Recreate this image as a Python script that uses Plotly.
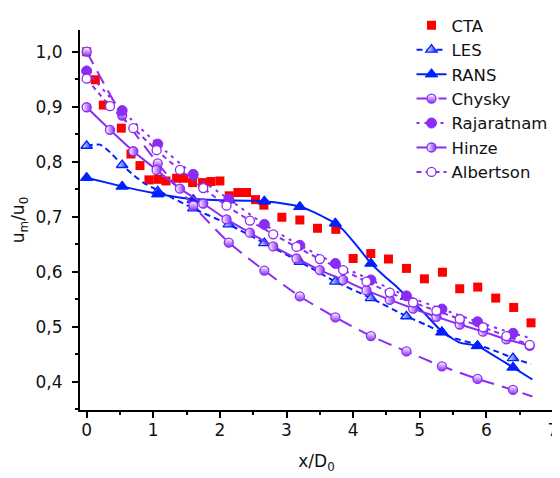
import plotly.graph_objects as go

# ---------------- data ----------------
cta_x = [0, 0.13, 0.25, 0.52, 0.665, 0.80, 0.935, 1.067, 1.19, 1.35, 1.46, 1.59, 1.74, 1.865, 2.0,
         2.14, 2.27, 2.40, 2.535, 2.66, 2.93, 3.2, 3.465, 3.74, 4.0, 4.265, 4.53, 4.8, 5.07, 5.34,
         5.6, 5.87, 6.14, 6.41, 6.67]
cta_y = [1.0, 0.949, 0.903, 0.861, 0.814, 0.793, 0.767, 0.768, 0.765, 0.770, 0.770, 0.762, 0.762, 0.764, 0.765,
         0.738, 0.744, 0.744, 0.731, 0.721, 0.699, 0.694, 0.679, 0.677, 0.624, 0.633, 0.623, 0.606, 0.587, 0.599,
         0.569, 0.572, 0.552, 0.535, 0.507]

mark_x = [0, 0.533, 1.067, 1.6, 2.133, 2.667, 3.2, 3.733, 4.267, 4.8, 5.333, 5.867, 6.4]

les_curve_x = [0, 0.2, 0.37, 0.533, 0.7, 0.85, 1.067, 1.6, 2.133, 2.667, 3.2, 3.733, 4.267, 4.8,
               5.1, 5.45, 5.9, 6.15, 6.4, 6.67]
les_curve_y = [0.829, 0.831, 0.815, 0.794, 0.776, 0.762, 0.748, 0.715, 0.686, 0.652, 0.618, 0.582, 0.552, 0.519,
               0.503, 0.482, 0.466, 0.455, 0.443, 0.432]
les_mark_y = [0.829, 0.794, 0.746, 0.715, 0.686, 0.652, 0.618, 0.582, 0.552, 0.519, 0.490, 0.465, 0.443]

rans_curve_x = [0, 0.5, 1.0, 1.5, 2.0, 2.5, 2.9, 3.2, 3.45, 3.733, 3.85, 4.0, 4.15, 4.267, 4.45, 4.65,
                4.8, 5.05, 5.333, 5.6, 5.867, 6.05, 6.4, 6.69]
rans_curve_y = [0.771, 0.756, 0.743, 0.733, 0.730, 0.729, 0.725, 0.718, 0.706, 0.688, 0.676, 0.655, 0.633, 0.615,
                0.594, 0.573, 0.555, 0.527, 0.491, 0.471, 0.465, 0.452, 0.426, 0.404]
rans_mark_y = [0.771, 0.755, 0.741, 0.731, 0.730, 0.728, 0.718, 0.688, 0.615, 0.555, 0.490, 0.465, 0.426]

chysky_mark_y = [1.0, 0.884, 0.797, 0.720, 0.653, 0.602, 0.555, 0.517, 0.483, 0.455, 0.428, 0.405, 0.385]
chysky_end = (6.69, 0.373)

raja_mark_y = [0.965, 0.893, 0.832, 0.777, 0.732, 0.686, 0.648, 0.615, 0.585, 0.556, 0.532, 0.509, 0.488]
raja_end = (6.67, 0.479)

mark35_x = [0, 0.35, 0.7, 1.05, 1.4, 1.75, 2.1, 2.45, 2.8, 3.15, 3.5, 3.85, 4.2, 4.55, 4.9, 5.25,
            5.6, 5.95, 6.3, 6.65]
hinze_y = [0.899, 0.858, 0.819, 0.785, 0.751, 0.724, 0.695, 0.671, 0.646, 0.624, 0.603, 0.585, 0.566,
           0.549, 0.533, 0.518, 0.504, 0.491, 0.477, 0.465]
albertson_y = [0.951, 0.901, 0.861, 0.821, 0.785, 0.752, 0.720, 0.693, 0.668, 0.645, 0.623, 0.603, 0.582,
               0.562, 0.544, 0.529, 0.514, 0.499, 0.483, 0.467]

x_ticks = [0, 1, 2, 3, 4, 5, 6, 7]
y_ticks = [0.4, 0.5, 0.6, 0.7, 0.8, 0.9, 1.0]

# ---------------- styles ----------------
RED = "#FF0000"
BLUE = "#0020FF"
VIOLET = "#8B2CF5"
FONT = "DejaVu Sans, Arial, sans-serif"

fig = go.Figure()


def add_series(name, lx, ly, mx, my, color, dash, marker, smoothing=0.6):
    fig.add_trace(go.Scatter(x=lx, y=ly, mode="lines", line=dict(color=color, width=2, dash=dash,
                             shape="spline", smoothing=smoothing), legendgroup=name, showlegend=False,
                             hoverinfo="skip"))
    fig.add_trace(go.Scatter(x=mx, y=my, mode="markers", marker=marker, legendgroup=name,
                             showlegend=False))
    fig.add_trace(go.Scatter(x=[None], y=[None], mode="lines+markers", name=name, legendgroup=name,
                             line=dict(color=color, width=2, dash=dash), marker=marker))


fig.add_trace(go.Scatter(x=cta_x, y=cta_y, mode="markers", name="CTA",
                         marker=dict(symbol="square", size=9, color=RED, line=dict(width=0))))

add_series("LES", les_curve_x, les_curve_y, mark_x, les_mark_y, BLUE, "6px,4px",
           dict(symbol="triangle-up", size=10, color="white",
                gradient=dict(type="horizontal", color=BLUE), line=dict(color=BLUE, width=1.3)))
add_series("RANS", rans_curve_x, rans_curve_y, mark_x, rans_mark_y, BLUE, "solid",
           dict(symbol="triangle-up", size=11, color=BLUE, line=dict(color=BLUE, width=1)),
           smoothing=0.4)
add_series("Chysky", mark_x + [chysky_end[0]], chysky_mark_y + [chysky_end[1]], mark_x, chysky_mark_y,
           VIOLET, "14px,8px",
           dict(symbol="circle", size=9, color="white",
                gradient=dict(type="vertical", color=VIOLET), line=dict(color=VIOLET, width=1.3)))
add_series("Rajaratnam", mark_x + [raja_end[0]], raja_mark_y + [raja_end[1]], mark_x, raja_mark_y,
           VIOLET, "3px,5px",
           dict(symbol="circle", size=10, color=VIOLET, line=dict(color=VIOLET, width=1)))
add_series("Hinze", mark35_x, hinze_y, mark35_x, hinze_y, VIOLET, "solid",
           dict(symbol="circle", size=9, color="white",
                gradient=dict(type="horizontal", color=VIOLET), line=dict(color=VIOLET, width=1.3)))
add_series("Albertson", mark35_x, albertson_y, mark35_x, albertson_y, VIOLET, "5px,4px",
           dict(symbol="circle", size=9, color="white", line=dict(color=VIOLET, width=1.3)))

axis_common = dict(showline=True, linecolor="black", linewidth=2, ticks="outside", tickcolor="black",
                   tickwidth=1.5, ticklen=6, showgrid=False, zeroline=False, mirror=False,
                   tickfont=dict(family=FONT, size=17, color="#111"), automargin=False)

fig.update_xaxes(range=[-0.1, 7.0], tickvals=x_ticks, tickformat="d", ticklabelstandoff=-2,
                 minor=dict(ticks="outside", ticklen=3, tickwidth=1.5, tickcolor="black", dtick=0.5, tick0=0),
                 title=dict(text="x/D<sub>0</sub>", font=dict(family=FONT, size=17, color="#111"), standoff=16),
                 **axis_common)
fig.update_yaxes(range=[0.3485, 1.0395], tickvals=y_ticks, tickformat=".1f", ticklabelstandoff=6,
                 minor=dict(ticks="outside", ticklen=3, tickwidth=1.5, tickcolor="black", dtick=0.05, tick0=0),
                 title=dict(text="u<sub>m</sub>/u<sub>0</sub>", font=dict(family=FONT, size=17, color="#111"),
                            standoff=12),
                 **axis_common)

# the page body adds an 8 px offset, so the figure is laid out 8 px smaller / shifted
fig.update_layout(
    width=552, height=470,
    margin=dict(l=72, r=7, t=22, b=68, autoexpand=False),
    paper_bgcolor="white", plot_bgcolor="white",
    separators=",.",
    showlegend=True,
    legend=dict(xref="container", yref="container", x=0.731, y=1.004, xanchor="left", yanchor="top",
                bgcolor="rgba(0,0,0,0)",
                font=dict(family=FONT, size=16.5, color="#111"), itemwidth=30, tracegroupgap=0,
                traceorder="normal"),
)

fig.write_html("out.html")
